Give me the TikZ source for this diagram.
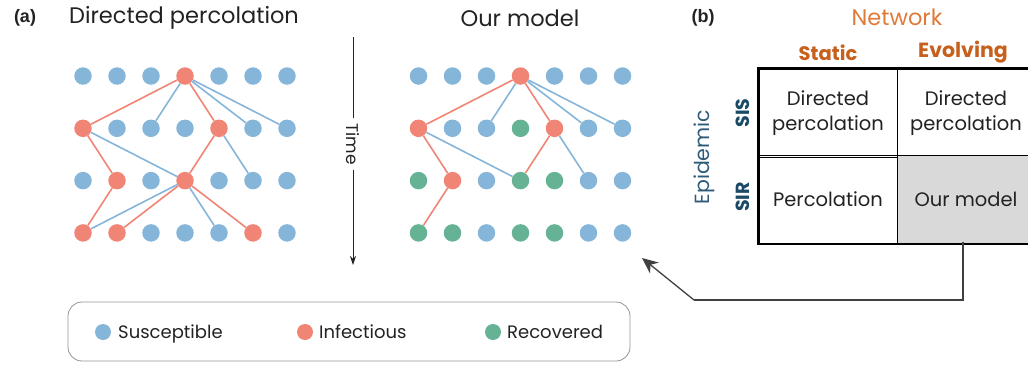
\documentclass[tikz,border=0pt]{standalone}
\usepackage{fontspec}
\setmainfont{Poppins}
\newfontfamily\labfont{Liberation Sans}
\usetikzlibrary{arrows.meta}
\definecolor{cS}{HTML}{85B6DA}
\definecolor{cI}{HTML}{F08576}
\definecolor{cR}{HTML}{66B294}
\definecolor{netc}{HTML}{E07A3A}
\definecolor{colc}{HTML}{C6601C}
\definecolor{rowc}{HTML}{1B4A66}
\definecolor{epic}{HTML}{2E5B78}
\definecolor{txt}{HTML}{222222}
\definecolor{cellg}{HTML}{D9D9D9}
\newcommand{\fsz}[1]{\fontsize{#1}{#1}\selectfont}
\begin{document}
\begin{tikzpicture}[x=1pt,y=-1pt,
  dot/.style={circle,inner sep=0pt,minimum size=17.5pt},
  st-s/.style={dot,fill=cS}, st-i/.style={dot,fill=cI}, st-r/.style={dot,fill=cR},
  eS/.style={draw=cS,line width=1.6pt}, eI/.style={draw=cI,line width=1.6pt},
  title/.style={text=txt,font=\fsz{22.5}},
  lab/.style={font=\labfont\bfseries\fsz{18},text=txt},
  cell/.style={draw=black,line width=0.8pt,minimum width=138pt,minimum height=88pt,inner sep=0pt,align=center,text=txt,font=\fsz{19.5},execute at begin node=\setlength{\baselineskip}{25pt}},
  legdot/.style={circle,inner sep=0pt,minimum size=16pt},
  legtxt/.style={anchor=base west,text=txt,font=\fsz{18},inner sep=0pt}]
\useasboundingbox (0,0) rectangle (1028,365);
% left grid
\foreach \r/\lst in {0/{s,s,s,i,s,s,s},1/{i,s,s,s,i,s,s},2/{s,i,s,i,s,s,s},3/{i,i,s,s,s,i,s}}{
  \foreach \s [count=\c from 0] in \lst {
    \node[st-\s] (L-\r-\c) at ({83+34*\c},{76+52.3*\r}) {};
  }
}
% right grid
\foreach \r/\lst in {0/{s,s,s,i,s,s,s},1/{i,s,s,r,i,s,s},2/{r,i,s,r,r,s,s},3/{r,r,s,r,r,s,s}}{
  \foreach \s [count=\c from 0] in \lst {
    \node[st-\s] (R-\r-\c) at ({418.5+34*\c},{76+52.3*\r}) {};
  }
}
% left edges
\foreach \a/\b in {0-3/1-0,0-3/1-4,1-0/2-1,1-4/2-3,2-1/3-0,2-3/3-1,2-3/3-5}
  \draw[eI] (L-\a) -- (L-\b);
\foreach \a/\b in {0-3/1-2,0-3/1-5,0-3/1-6,1-0/2-3,1-4/2-5,2-3/3-0,2-3/3-4}
  \draw[eS] (L-\a) -- (L-\b);
% right edges
\foreach \a/\b in {0-3/1-0,0-3/1-4,1-0/2-1,1-4/2-3,2-1/3-0}
  \draw[eI] (R-\a) -- (R-\b);
\foreach \a/\b in {0-3/1-2,0-3/1-5,0-3/1-6,1-0/2-3,1-4/2-5}
  \draw[eS] (R-\a) -- (R-\b);
% titles
\node[lab] (la) at (25,18) {(a)};
\node[title] (t1) at (184,18) {Directed percolation};
\node[title] (t2) at (520,18) {Our model};
% time arrow
\coordinate (ts) at (353,37);
\coordinate (te) at (353,265);
\node[rotate=-90,text=txt,font=\fsz{17},inner sep=5pt] (time) at (353,144) {Time};
\draw[line width=0.9pt,draw=txt] (ts) -- (time);
\draw[line width=0.9pt,draw=txt,-{Stealth[length=9pt,width=6pt]}] (time) -- (te);
% legend
\node[draw=gray!85,line width=0.8pt,rounded corners=14pt,minimum width=562pt,minimum height=59pt,inner sep=0pt] (leg) at (349,331.5) {};
\node[legdot,fill=cS] (d1) at (103,332) {};
\node[legtxt] (l1) at (118,338.5) {Susceptible};
\node[legdot,fill=cI] (d2) at (305,332) {};
\node[legtxt] (l2) at (319,338.5) {Infectious};
\node[legdot,fill=cR] (d3) at (493,332) {};
\node[legtxt] (l3) at (507,338.5) {Recovered};
% table
\node[lab] (lb) at (703,18) {(b)};
\node[text=netc,font=\fsz{22.5}] (net) at (897,17) {Network};
\node[text=colc,font=\bfseries\fsz{19.5}] (cst) at (828,53) {Static};
\node[text=colc,font=\bfseries\fsz{20.5}] (cev) at (963,52) {Evolving};
\node[cell] (c11) at (828,113) {Directed\\percolation};
\node[cell] (c12) at (966,113) {Directed\\percolation};
\node[cell] (c21) at (828,199.5) {Percolation};
\node[cell,fill=cellg] (c22) at (966,199.5) {Our model};
\draw[line width=2.4pt] (c11.north west) rectangle (c22.south east);
\node[rotate=90,text=rowc,font=\bfseries\fsz{19}] (sis) at (743,113) {SIS};
\node[rotate=90,text=rowc,font=\bfseries\fsz{19}] (sir) at (743,197) {SIR};
\node[rotate=90,text=epic,font=\fsz{20.5}] (epi) at (704,157) {Epidemic};
% feedback arrow
\coordinate (a1) at (963,300);
\coordinate (a2) at (694,300);
\coordinate (a3) at (642,258);
\draw[line width=1.3pt,draw=gray!50!black] (963,242) -- (a1) -- (a2);
\draw[line width=1.3pt,draw=gray!50!black,-{Stealth[length=16pt,width=14pt]}] (a2) -- (a3);
\end{tikzpicture}
\end{document}
